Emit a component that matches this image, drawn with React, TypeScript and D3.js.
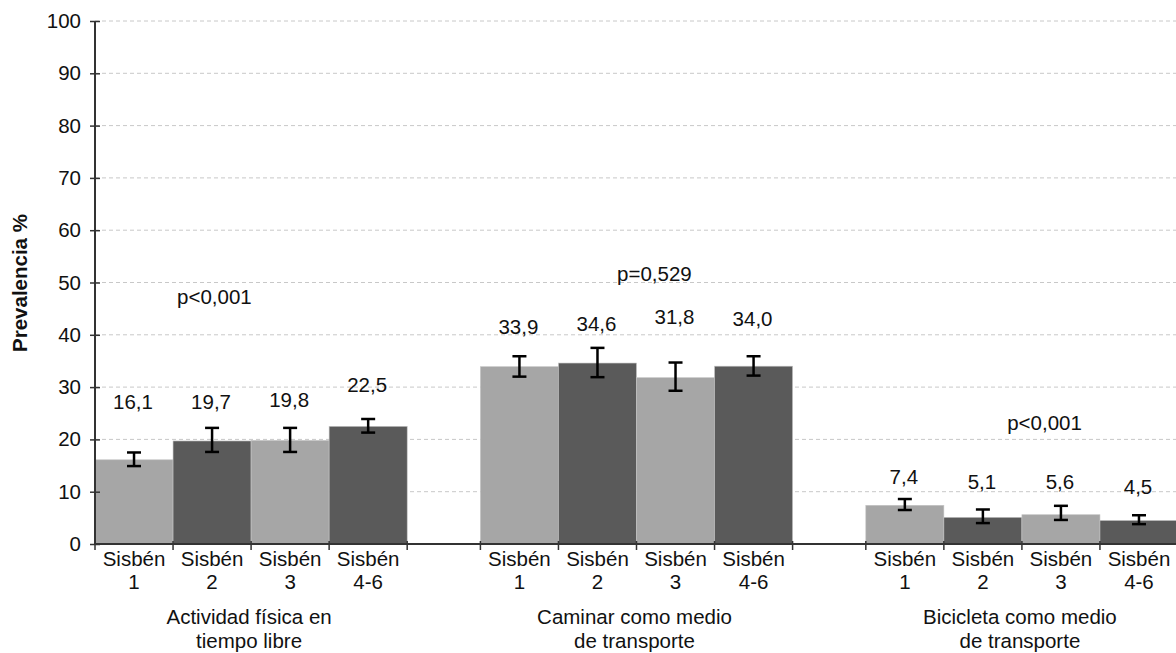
import React, { useEffect, useRef } from "react";
import * as d3 from "d3";

// groups along the x axis (two text lines each)
const groups = ["Actividad física en\ntiempo libre", "Caminar como medio\nde transporte", "Bicicleta como medio\nde transporte"];
const categories = ["Sisbén\n1", "Sisbén\n2", "Sisbén\n3", "Sisbén\n4-6"];

// prevalence per Sisbén level, one array per group
const actividad = [16.1, 19.7, 19.8, 22.5];
const caminar = [33.9, 34.6, 31.8, 34.0];
const bicicleta = [7.4, 5.1, 5.6, 4.5];

// 95% CI
const actividadLow = [14.9, 17.6, 17.6, 21.3];
const actividadHigh = [17.5, 22.2, 22.2, 23.9];
const caminarLow = [32.0, 31.9, 29.3, 32.2];
const caminarHigh = [35.9, 37.5, 34.7, 35.9];
const bicicletaLow = [6.5, 4.0, 4.6, 3.8];
const bicicletaHigh = [8.6, 6.6, 7.3, 5.5];

// where the value labels sit (in % units)
const actividadLabelAt = [27.2, 27.2, 27.5, 30.5];
const caminarLabelAt = [41.5, 42.1, 43.5, 43.0];
const bicicletaLabelAt = [12.9, 11.9, 11.9, 10.9];

const pValues = ["p<0,001", "p=0,529", "p<0,001"];
const pLabelAt = [47.3, 51.6, 23.1];
const pSlot = [1.53, 2.23, 2.29]; // horizontal spot, in bar widths from group start

const yTicks = d3.range(0, 101, 10);

const series = [
  { values: actividad, low: actividadLow, high: actividadHigh, labelAt: actividadLabelAt },
  { values: caminar, low: caminarLow, high: caminarHigh, labelAt: caminarLabelAt },
  { values: bicicleta, low: bicicletaLow, high: bicicletaHigh, labelAt: bicicletaLabelAt },
];

const W = 1176;
const H = 653;
const FONT = "'Liberation Sans', Arial, sans-serif";
const FS = 20.5;
const light = "#a6a6a6";
const dark = "#5a5a5a";

const fmt = (v: number) => v.toFixed(1).replace(".", ",");

const App = () => {
  const ref = useRef<SVGSVGElement>(null);

  useEffect(() => {
    draw();
  });

  const draw = () => {
    const svg = d3.select(ref.current);
    svg.selectAll("*").remove();

    const left = 95;
    const x0 = d3.scaleBand<string>().domain(groups).range([left, 1178]).paddingInner(0.19);
    const x1 = d3.scaleBand<string>().domain(categories).range([0, x0.bandwidth()]);
    const y = d3.scaleLinear().domain([0, 100]).range([544, 21]);

    // dashed grid
    svg
      .append("g")
      .selectAll("line")
      .data(yTicks.filter((t) => t > 0))
      .join("line")
      .attr("x1", left)
      .attr("x2", W)
      .attr("y1", (d) => y(d))
      .attr("y2", (d) => y(d))
      .attr("stroke", "#c8c8c8")
      .attr("stroke-width", 1)
      .attr("stroke-dasharray", "4,3");

    // bars
    series.forEach((s, gi) => {
      const g = svg.append("g").attr("transform", `translate(${x0(groups[gi])},0)`);
      g.selectAll("rect")
        .data(s.values)
        .join("rect")
        .attr("x", (_, i) => x1(categories[i]) as number)
        .attr("width", x1.bandwidth())
        .attr("y", (d) => y(d))
        .attr("height", (d) => y(0) - y(d))
        .attr("fill", (_, i) => (i % 2 === 0 ? light : dark))
        .attr("stroke", "#c4c4c4")
        .attr("stroke-width", 0.6);

      // error bars
      const cx = (i: number) => (x1(categories[i]) as number) + x1.bandwidth() / 2;
      const eb = g.selectAll("g.eb").data(s.values).join("g").attr("class", "eb");
      eb.append("line")
        .attr("x1", (_, i) => cx(i))
        .attr("x2", (_, i) => cx(i))
        .attr("y1", (_, i) => y(s.low[i]))
        .attr("y2", (_, i) => y(s.high[i]));
      eb.append("line")
        .attr("x1", (_, i) => cx(i) - 7)
        .attr("x2", (_, i) => cx(i) + 7)
        .attr("y1", (_, i) => y(s.low[i]))
        .attr("y2", (_, i) => y(s.low[i]));
      eb.append("line")
        .attr("x1", (_, i) => cx(i) - 7)
        .attr("x2", (_, i) => cx(i) + 7)
        .attr("y1", (_, i) => y(s.high[i]))
        .attr("y2", (_, i) => y(s.high[i]));
      eb.selectAll("line").attr("stroke", "#000").attr("stroke-width", 2.5);

      // value labels
      g.selectAll("text.val")
        .data(s.values)
        .join("text")
        .attr("class", "val")
        .attr("x", (_, i) => cx(i) - 1)
        .attr("y", (_, i) => y(s.labelAt[i]))
        .attr("dy", "0.35em")
        .attr("text-anchor", "middle")
        .attr("font-family", FONT)
        .attr("font-size", FS)
        .attr("fill", "#111")
        .text((d) => fmt(d));

      // p value
      g.append("text")
        .attr("x", pSlot[gi] * x1.bandwidth())
        .attr("y", y(pLabelAt[gi]))
        .attr("dy", "0.35em")
        .attr("text-anchor", "middle")
        .attr("font-family", FONT)
        .attr("font-size", FS)
        .attr("fill", "#111")
        .text(pValues[gi]);

      // x ticks at bar boundaries
      g.selectAll("line.xt")
        .data(d3.range(categories.length + 1))
        .join("line")
        .attr("class", "xt")
        .attr("x1", (i) => i * x1.bandwidth())
        .attr("x2", (i) => i * x1.bandwidth())
        .attr("y1", y(0) - 3)
        .attr("y2", y(0) + 6)
        .attr("stroke", "#333")
        .attr("stroke-width", 1.5);

      // category labels
      const cl = g
        .selectAll("text.cat")
        .data(categories)
        .join("text")
        .attr("class", "cat")
        .attr("text-anchor", "middle")
        .attr("font-family", FONT)
        .attr("font-size", FS)
        .attr("fill", "#111");
      cl.selectAll("tspan")
        .data((d) => d.split("\n").map((t) => ({ t, c: d })))
        .join("tspan")
        .attr("x", (d) => (x1(d.c) as number) + x1.bandwidth() / 2)
        .attr("y", (_, j) => 566 + j * 23)
        .text((d) => d.t);

      // group label
      g.append("text")
        .attr("text-anchor", "middle")
        .attr("font-family", FONT)
        .attr("font-size", FS)
        .attr("fill", "#111")
        .selectAll("tspan")
        .data(groups[gi].split("\n"))
        .join("tspan")
        .attr("x", x0.bandwidth() / 2 - 2)
        .attr("y", (_, j) => 624 + j * 24)
        .text((d) => d);
    });

    // y axis
    const ya = svg
      .append("g")
      .attr("transform", `translate(${left},0)`)
      .call(d3.axisLeft(y).tickValues(yTicks).tickSize(5).tickSizeOuter(0).tickPadding(9));
    ya.select(".domain").attr("stroke", "#333").attr("stroke-width", 2).attr("d", `M0,${y(0)}V${y(100)}`);
    ya.selectAll(".tick line").attr("x1", 5).attr("stroke", "#333").attr("stroke-width", 1.5);
    ya.selectAll(".tick text")
      .attr("font-family", FONT)
      .attr("font-size", FS)
      .attr("fill", "#111");

    // x axis line
    svg
      .append("line")
      .attr("x1", left)
      .attr("x2", W)
      .attr("y1", y(0))
      .attr("y2", y(0))
      .attr("stroke", "#333")
      .attr("stroke-width", 2);

    svg
      .append("text")
      .attr("transform", `translate(27,283) rotate(-90)`)
      .attr("text-anchor", "middle")
      .attr("font-family", FONT)
      .attr("font-size", FS)
      .attr("font-weight", "bold")
      .attr("fill", "#111")
      .text("Prevalencia %");
  };

  return (
    <svg
      ref={ref}
      width={W}
      height={H}
      style={{ position: "absolute", left: 0, top: 0, background: "#fff" }}
    />
  );
};

export default App;
